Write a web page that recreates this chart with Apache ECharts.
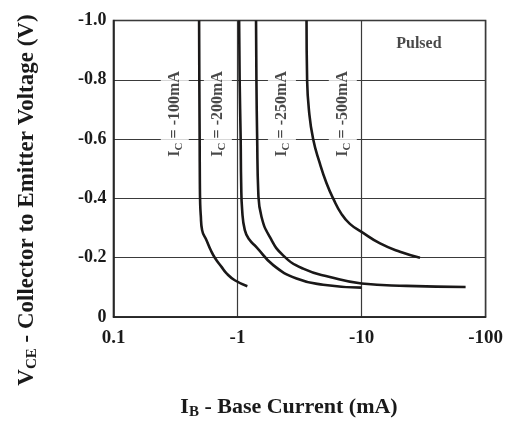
<!DOCTYPE html>
<html>
<head>
<meta charset="utf-8">
<script src="https://cdn.jsdelivr.net/npm/echarts@6/dist/echarts.min.js"></script>
<style>
html,body{margin:0;padding:0;background:#fff;}
#c{width:506px;height:421px;}
</style>
</head>
<body>
<div id="c"></div>
<script>
// Base current magnitude (mA) vs collector-emitter voltage magnitude (V)
const curveIc100 = [[0.49,1.0],[0.492,0.8],[0.495,0.6],[0.497,0.45],[0.5,0.38],[0.505,0.345],[0.518,0.293],[0.562,0.259],[0.609,0.225],[0.656,0.2],[0.743,0.169],[0.815,0.147],[0.95,0.124],[1.2,0.104]];
const curveIc200 = [[1.03,1.0],[1.04,0.8],[1.06,0.6],[1.07,0.45],[1.09,0.36],[1.145,0.293],[1.24,0.262],[1.42,0.236],[1.94,0.175],[2.99,0.13],[4.9,0.109],[10,0.099]];
const curveIc250 = [[1.41,1.0],[1.42,0.8],[1.44,0.6],[1.47,0.42],[1.56,0.338],[1.82,0.27],[2.33,0.208],[3.38,0.163],[5.55,0.135],[10,0.113],[23,0.105],[69,0.101]];
const curveIc500 = [[3.6,1.0],[3.64,0.8],[3.76,0.7],[4.07,0.6],[4.61,0.518],[5.22,0.451],[5.9,0.4],[6.9,0.347],[8.05,0.314],[10,0.287],[14.1,0.248],[20.4,0.22],[29.6,0.2]];
const seriesNames = ['-100mA','-200mA','-250mA','-500mA'];
const xTickLabels = ['0.1','-1','-10','-100'];
const yTickLabels = ['0','-0.2','-0.4','-0.6','-0.8','-1.0'];
const noteText = 'Pulsed';
const xTitle = ['I','B',' - Base Current (mA)'];
const yTitle = ['V','CE',' - Collector to Emitter Voltage (V)'];

const FONT = '"Liberation Serif","Times New Roman",serif';
const chart = echarts.init(document.getElementById('c'), null, {renderer:'canvas'});

// annotation anchor positions (layout, in data units)
const labelAnchors = [[0.312,0.685],[0.694,0.685],[2.28,0.685],[7.06,0.685]];
const notePos = [29,0.921];

const curves = [curveIc100, curveIc200, curveIc250, curveIc500];
const lineSeries = curves.map((d,i)=>({
  type:'line', name:seriesNames[i], data:d, showSymbol:false, symbol:'none',
  smooth:0.5, lineStyle:{color:'#1a1818', width:2.6}, z:5, silent:true
}));

const labelRich = {
  i:{fontFamily:FONT,fontWeight:'bold',fontSize:16,color:'#1a1a1a',lineHeight:18},
  s:{fontFamily:FONT,fontWeight:'bold',fontSize:11,color:'#1a1a1a',lineHeight:18,padding:[8,0,0,0]}
};

const annotSeries = {
  type:'scatter', symbolSize:0, silent:true, z:4,
  data: labelAnchors.map((p,i)=>({value:p, name:seriesNames[i]})),
  label:{
    show:true, position:'inside', rotate:90, align:'center', verticalAlign:'middle',
    backgroundColor:'#fff', padding:[5,3,5,3],
    formatter:(p)=>'{i|I}{s|C}{i| = '+p.name+'}',
    rich:labelRich
  }
};
const noteSeries = {
  type:'scatter', symbolSize:0, silent:true, z:4,
  data:[{value:notePos, name:noteText}],
  label:{show:true, position:'inside', formatter:'{b}', fontFamily:FONT, fontWeight:'bold', fontSize:16, color:'#1a1a1a'}
};

const option = {
  backgroundColor:'#fff',
  animation:false,
  grid:{left:113.5, right:20, top:20.5, bottom:104, show:true, borderColor:'#222', borderWidth:1.5, containLabel:false},
  xAxis:{
    type:'log', logBase:10, min:0.1, max:100,
    axisLine:{show:true, lineStyle:{color:'#222', width:1.5}},
    axisTick:{show:false},
    minorTick:{show:false},
    splitLine:{show:true, lineStyle:{color:'#3a3a3a', width:1.2}},
    axisLabel:{
      margin:12, fontFamily:FONT, fontWeight:'bold', fontSize:19, color:'#1a1a1a',
      formatter:(v)=>xTickLabels[Math.round(Math.log10(v))+1]
    }
  },
  yAxis:{
    type:'value', min:0, max:1, interval:0.2,
    axisLine:{show:true, lineStyle:{color:'#222', width:1.5}},
    axisTick:{show:false},
    splitLine:{show:true, lineStyle:{color:'#3a3a3a', width:1.2}},
    axisLabel:{
      margin:7, fontFamily:FONT, fontWeight:'bold', fontSize:18, color:'#1a1a1a',
      formatter:(v)=>yTickLabels[Math.round(v/0.2)]
    }
  },
  graphic:[
    {type:'text', x:289, y:407, silent:true,
      style:{text:'{a|'+xTitle[0]+'}{b|'+xTitle[1]+'}{a|'+xTitle[2]+'}', align:'center', verticalAlign:'middle',
        rich:{a:{fontFamily:FONT,fontWeight:'bold',fontSize:22,fill:'#1a1a1a',lineHeight:24},
              b:{fontFamily:FONT,fontWeight:'bold',fontSize:15,fill:'#1a1a1a',lineHeight:24,padding:[10,0,0,0]}}}},
    {type:'text', x:27, y:200, rotation:Math.PI/2, silent:true,
      style:{text:'{a|'+yTitle[0]+'}{b|'+yTitle[1]+'}{a|'+yTitle[2]+'}', align:'center', verticalAlign:'middle',
        rich:{a:{fontFamily:FONT,fontWeight:'bold',fontSize:23,fill:'#1a1a1a',lineHeight:25},
              b:{fontFamily:FONT,fontWeight:'bold',fontSize:15,fill:'#1a1a1a',lineHeight:25,padding:[10,0,0,0]}}}}
  ],
  series:[...lineSeries, annotSeries, noteSeries]
};
chart.setOption(option);
</script>
</body>
</html>
